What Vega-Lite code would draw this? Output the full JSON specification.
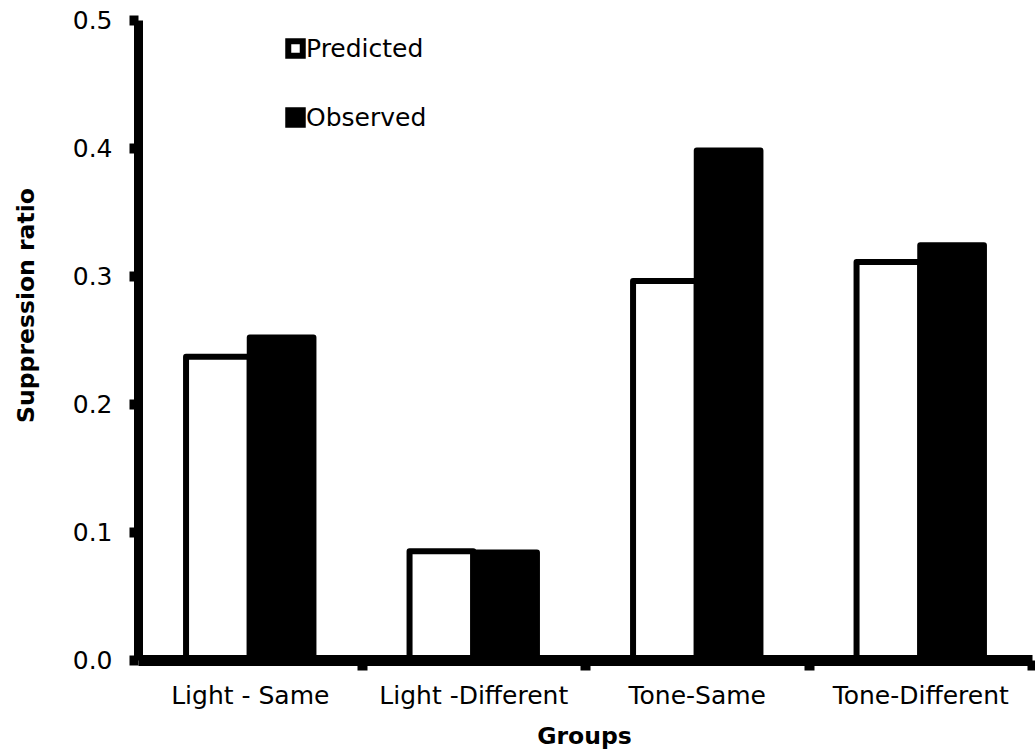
{
  "$schema": "https://vega.github.io/schema/vega-lite/v6.json",
  "autosize": {"type": "none"},
  "width": 894,
  "height": 640,
  "padding": {"left": 138, "top": 20, "right": 3, "bottom": 93},
  "background": "white",
  "data": {
    "values": [
      {"group": "Light - Same", "type": "Predicted", "ratio": 0.237},
      {"group": "Light - Same", "type": "Observed", "ratio": 0.252},
      {"group": "Light -Different", "type": "Predicted", "ratio": 0.085},
      {"group": "Light -Different", "type": "Observed", "ratio": 0.084},
      {"group": "Tone-Same", "type": "Predicted", "ratio": 0.296},
      {"group": "Tone-Same", "type": "Observed", "ratio": 0.398},
      {"group": "Tone-Different", "type": "Predicted", "ratio": 0.311},
      {"group": "Tone-Different", "type": "Observed", "ratio": 0.324}
    ]
  },
  "mark": {"type": "bar", "stroke": "black", "strokeWidth": 6, "strokeJoin": "round"},
  "encoding": {
    "x": {
      "field": "group",
      "type": "nominal",
      "sort": ["Light - Same", "Light -Different", "Tone-Same", "Tone-Different"],
      "scale": {"paddingInner": 0.43, "paddingOuter": 0.215},
      "axis": {
        "title": "Groups",
        "zindex": 1,
        "labelAngle": 0,
        "labelLimit": 0,
        "labelFont": "DejaVu Sans",
        "labelFontSize": 25,
        "labelColor": "black",
        "labelBaseline": "alphabetic",
        "labelPadding": 33,
        "labelOffset": -111.75,
        "tickOffset": 111.75,
        "tickSize": 10,
        "tickWidth": 10,
        "tickColor": "black",
        "domainColor": "black",
        "domainWidth": 11,
        "titleFont": "DejaVu Sans",
        "titleFontSize": 23.5,
        "titleFontWeight": "bold",
        "titleColor": "black",
        "titleBaseline": "alphabetic",
        "titleAlign": "center",
        "titleX": 446,
        "titleY": 83
      }
    },
    "xOffset": {
      "field": "type",
      "type": "nominal",
      "sort": ["Predicted", "Observed"],
      "scale": {"paddingInner": 0, "paddingOuter": 0}
    },
    "y": {
      "field": "ratio",
      "type": "quantitative",
      "scale": {"domain": [0, 0.5], "nice": false},
      "axis": {
        "title": "Suppression ratio",
        "zindex": 1,
        "values": [0, 0.1, 0.2, 0.3, 0.4, 0.5],
        "format": ".1f",
        "grid": false,
        "labelFont": "DejaVu Sans",
        "labelFontSize": 25,
        "labelColor": "black",
        "labelPadding": 17,
        "labelBaseline": "middle",
        "tickSize": 9,
        "tickWidth": 10,
        "tickColor": "black",
        "domainColor": "black",
        "domainWidth": 9,
        "titleFont": "DejaVu Sans",
        "titleFontSize": 23.5,
        "titleFontWeight": "bold",
        "titleColor": "black",
        "titleAngle": -90,
        "titleBaseline": "alphabetic",
        "titleAlign": "center",
        "titleX": -105,
        "titleY": 285
      }
    },
    "fill": {
      "field": "type",
      "type": "nominal",
      "sort": ["Predicted", "Observed"],
      "scale": {"domain": ["Predicted", "Observed"], "range": ["white", "black"]},
      "legend": {
        "title": null,
        "orient": "none",
        "legendX": 145,
        "legendY": 16,
        "padding": 0,
        "symbolType": "square",
        "symbolSize": 210,
        "symbolStrokeWidth": 6,
        "symbolStrokeColor": "black",
        "labelFont": "DejaVu Sans",
        "labelFontSize": 25,
        "labelColor": "black",
        "labelOffset": -2,
        "rowPadding": 30
      }
    }
  },
  "config": {"view": {"stroke": null}}
}
